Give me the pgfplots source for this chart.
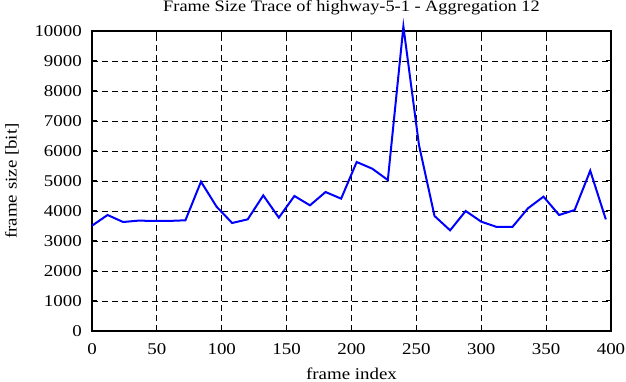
\documentclass[border=0pt]{standalone}
\usepackage{fontspec}
\setmainfont{Liberation Serif}[FakeStretch=1.15]
\usepackage{pgfplots}
\pgfplotsset{compat=1.18}
\begin{document}
\begin{tikzpicture}
\begin{axis}[
  name=main,
  scale only axis,
  width=519bp, height=300bp,
  xmin=0, xmax=400, ymin=0, ymax=10000,
  xtick={0,50,...,400},
  ytick={0,1000,...,10000},
  scaled y ticks=false,
  scaled x ticks=false,
  axis line style={line width=1.5bp},
  tick style={black, line width=1bp},
  major tick length=5bp,
  tick align=inside,
  grid=major,
  major grid style={black, line width=0.8bp, dash pattern=on 6bp off 4bp},
  /pgf/number format/.cd, 1000 sep={}, assume math mode=true,
  /pgfplots/.cd,
  tick label style={font=\fontsize{16.5}{19}\selectfont},
  xticklabel style={anchor=base, inner sep=0pt, yshift=-23bp},
  yticklabel style={anchor=east, inner sep=0pt, xshift=-10bp},
  label style={font=\fontsize{16.5}{19}\selectfont},
  xlabel={frame index},
  ylabel={frame size [bit]},
  xlabel style={at={(axis description cs:0.5,-0.16)}, anchor=base, inner sep=0pt},
  ylabel style={at={(axis description cs:-0.1541,0.5)}, anchor=center, inner sep=0pt},
  title={Frame Size Trace of highway-5-1 - Aggregation 12},
  title style={font=\fontsize{16}{19}\selectfont, at={(axis description cs:0.5,1.044)}, anchor=base, inner sep=0pt},
  clip=false,
]
\addplot[color={rgb,255:red,0;green,0;blue,255}, line width=2bp, mark=none] coordinates {
(0,3510) (12,3867) (24,3633) (36,3680) (48,3667) (60,3670) (72,3690)
(84,4978) (96,4144) (108,3600) (120,3722) (132,4520) (144,3778)
(156,4500) (168,4189) (180,4633) (192,4411) (204,5633) (216,5411)
(228,5033) (240,10150) (252,6200) (264,3833) (276,3356) (288,4000)
(300,3644) (312,3467) (324,3467) (336,4089) (348,4478) (360,3867)
(372,4033) (384,5344) (396,3722)
};
\end{axis}
\pgfresetboundingbox
\path (main.south west) ++(-92bp,-51bp) rectangle ++(626bp,382bp);
\end{tikzpicture}
\end{document}
